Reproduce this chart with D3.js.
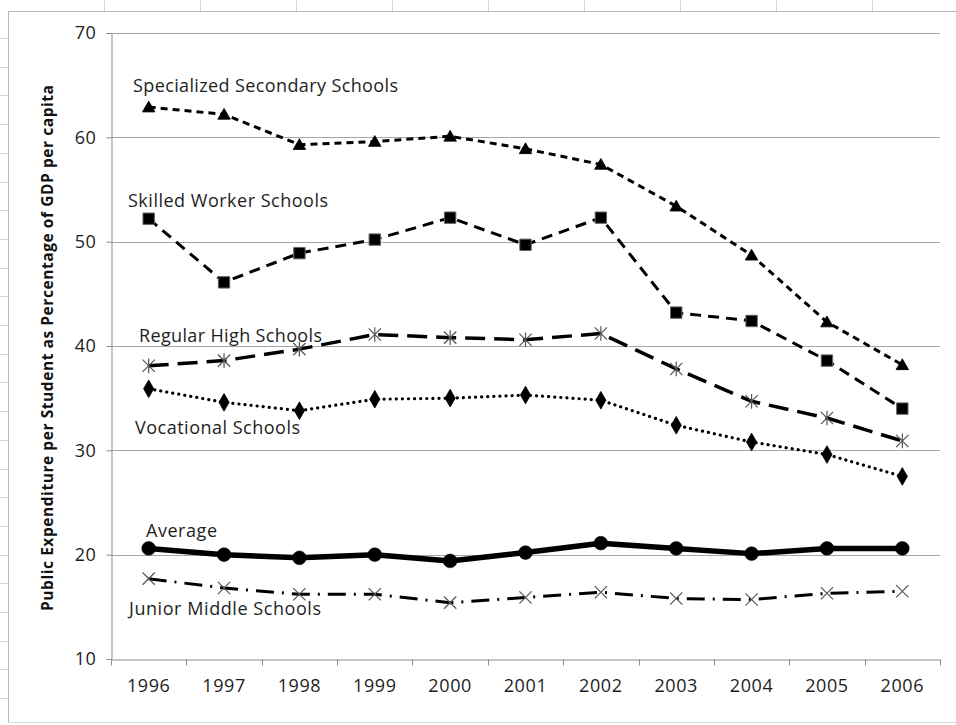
<!DOCTYPE html>
<html>
<head>
<meta charset="utf-8">
<script src="https://cdn.jsdelivr.net/npm/d3@7"></script>
<style>
  body { margin: 0; background: #fff; }
  text { font-family: "Open Sans", "Noto Sans", sans-serif; }
</style>
</head>
<body>
<div id="chart"></div>
<script>
var years = ["1996", "1997", "1998", "1999", "2000", "2001", "2002", "2003", "2004", "2005", "2006"];
var yTicks = [10, 20, 30, 40, 50, 60, 70];

var specialized = [62.9, 62.2, 59.3, 59.6, 60.1, 58.9, 57.4, 53.4, 48.7, 42.3, 38.2];
var skilled = [52.2, 46.1, 48.9, 50.2, 52.3, 49.7, 52.3, 43.2, 42.4, 38.6, 34.0];
var regular = [38.1, 38.6, 39.7, 41.1, 40.8, 40.6, 41.2, 37.8, 34.7, 33.1, 30.9];
var vocational = [35.9, 34.6, 33.8, 34.9, 35.0, 35.3, 34.8, 32.4, 30.8, 29.6, 27.5];
var average = [20.6, 20.0, 19.7, 20.0, 19.4, 20.2, 21.1, 20.6, 20.1, 20.6, 20.6];
var junior = [17.7, 16.8, 16.2, 16.2, 15.4, 15.9, 16.4, 15.8, 15.7, 16.3, 16.5];

var seriesNames = ["Specialized Secondary Schools", "Skilled Worker Schools", "Regular High Schools",
                   "Vocational Schools", "Average", "Junior Middle Schools"];

var W = 956, H = 725;
var margin = { top: 33, right: 16, bottom: 66, left: 111 };
var width = W - margin.left - margin.right;
var height = H - margin.top - margin.bottom;

var svg = d3.select("#chart").append("svg")
    .attr("width", W)
    .attr("height", H);

// spreadsheet cell grid peeking out behind the chart object
var sheet = svg.append("g").attr("stroke", "#cfd6e0").attr("stroke-width", 1);
d3.range(38, H, 28.7).forEach(function (y) {
    sheet.append("line").attr("x1", 0).attr("x2", 8).attr("y1", Math.round(y) + 0.5).attr("y2", Math.round(y) + 0.5);
});
[104.5, 200.5, 296.5, 392.5, 488.5, 584.5, 680.5, 776.5, 872.5].forEach(function (x) {
    sheet.append("line").attr("x1", x).attr("x2", x).attr("y1", 0).attr("y2", 11);
});

// chart object border
svg.append("rect")
    .attr("x", 8.5).attr("y", 11.5)
    .attr("width", W).attr("height", H - 14)
    .attr("fill", "#fff").attr("stroke", "#b8b8b8");
svg.append("line").attr("x1", 8).attr("x2", W).attr("y1", 722.5).attr("y2", 722.5)
    .attr("stroke", "#d8d8d8");

var g = svg.append("g").attr("transform", "translate(" + margin.left + "," + margin.top + ")");

var x = d3.scaleBand().domain(years).range([0, width]).padding(0);
var y = d3.scaleLinear().domain([10, 70]).range([height, 0]);
function cx(i) { return x(years[i]) + x.bandwidth() / 2; }

// gridlines
g.append("g").selectAll("line").data(yTicks.slice(1)).enter().append("line")
    .attr("x1", 0).attr("x2", width)
    .attr("y1", function (d) { return Math.round(y(d)) + 0.5; })
    .attr("y2", function (d) { return Math.round(y(d)) + 0.5; })
    .attr("stroke", "#a6a6a6");

// y axis
var yAxis = g.append("g").attr("transform", "translate(0.5,0)")
    .call(d3.axisLeft(y).tickValues(yTicks).tickSize(5).tickPadding(10));
yAxis.select(".domain").attr("stroke", "#8c8c8c");
yAxis.selectAll(".tick line").attr("stroke", "#8c8c8c");
yAxis.selectAll(".tick text").attr("font-size", 18).attr("fill", "#1e1e1e")
    .attr("letter-spacing", 0.6)
    .attr("font-family", "'Open Sans', sans-serif");

// x axis: labels centred, ticks at category boundaries
var xAxis = g.append("g").attr("transform", "translate(0," + (Math.round(height) + 0.5) + ")")
    .call(d3.axisBottom(x).tickSize(0).tickPadding(20));
xAxis.select(".domain").attr("stroke", "#8c8c8c");
xAxis.selectAll(".tick text").attr("font-size", 18).attr("fill", "#1e1e1e")
    .attr("letter-spacing", 0.6)
    .attr("font-family", "'Open Sans', sans-serif");
xAxis.selectAll(".bound").data(years.concat(["end"])).enter().append("line")
    .attr("x1", function (d, i) { return Math.round(i * x.step()) + 0.5; })
    .attr("x2", function (d, i) { return Math.round(i * x.step()) + 0.5; })
    .attr("y1", 0).attr("y2", 6)
    .attr("stroke", "#8c8c8c");

// y axis title
svg.append("text")
    .attr("transform", "translate(53,348) rotate(-90)")
    .attr("text-anchor", "middle")
    .attr("font-size", 15.5).attr("font-weight", "bold")
    .attr("fill", "#111")
    .attr("textLength", 526)
    .attr("lengthAdjust", "spacing")
    .text("Public Expenditure per Student as Percentage of GDP per capita");

var line = d3.line()
    .x(function (d, i) { return cx(i); })
    .y(function (d) { return y(d); });

function drawLine(vals, dash, w, cap) {
    g.append("path").datum(vals)
        .attr("d", line)
        .attr("fill", "none")
        .attr("stroke", "#000")
        .attr("stroke-width", w)
        .attr("stroke-dasharray", dash)
        .attr("stroke-linecap", cap || "butt")
        .attr("stroke-linejoin", "round");
}

drawLine(specialized, "7,5", 3);
drawLine(skilled, "11,7", 3);
drawLine(regular, "20,9", 3.5);
drawLine(vocational, "0.1,6", 3.2, "round");
drawLine(average, null, 5.5);
drawLine(junior, "18,8,2,8", 3);

// markers
function markers(vals, type, size, fill, stroke, sw) {
    g.append("g").selectAll("path").data(vals).enter().append("path")
        .attr("transform", function (d, i) { return "translate(" + cx(i) + "," + y(d) + ")"; })
        .attr("d", d3.symbol().type(type).size(size))
        .attr("fill", fill)
        .attr("stroke", stroke)
        .attr("stroke-width", sw);
}

var asterisk = {
    draw: function (ctx, size) {
        var r = Math.sqrt(size) / 2;
        ctx.moveTo(-r, -r); ctx.lineTo(r, r);
        ctx.moveTo(-r, r); ctx.lineTo(r, -r);
        ctx.moveTo(0, -r * 1.2); ctx.lineTo(0, r * 1.2);
    }
};
var cross = {
    draw: function (ctx, size) {
        var r = Math.sqrt(size) / 2;
        ctx.moveTo(-r, -r); ctx.lineTo(r, r);
        ctx.moveTo(-r, r); ctx.lineTo(r, -r);
    }
};
var tri = {
    draw: function (ctx, size) {
        var r = Math.sqrt(size) / 2;
        ctx.moveTo(0, -r * 1.05); ctx.lineTo(r * 1.1, r * 0.85); ctx.lineTo(-r * 1.1, r * 0.85); ctx.closePath();
    }
};

markers(specialized, tri, 130, "#000", "#000", 0.8);
markers(skilled, d3.symbolSquare, 130, "#000", "#666", 1);
markers(regular, asterisk, 150, "none", "#555", 1.2);
markers(vocational, d3.symbolDiamond, 90, "#000", "#000", 0.8);
markers(average, d3.symbolCircle, 150, "#000", "#000", 0.5);
markers(junior, cross, 150, "none", "#555", 1.2);

// series labels written on the plot
var labelPos = [[133, 86, 265], [128, 201, 200], [139, 336, 183], [135, 428, 165], [146, 531, 71], [129, 609, 192]];
svg.append("g").selectAll("text").data(seriesNames).enter().append("text")
    .attr("x", function (d, i) { return labelPos[i][0]; })
    .attr("y", function (d, i) { return labelPos[i][1]; })
    .attr("dy", "0.35em")
    .attr("font-size", 18)
    .attr("fill", "#1e1e1e")
    .attr("textLength", function (d, i) { return labelPos[i][2]; })
    .attr("lengthAdjust", "spacing")
    .text(function (d) { return d; });
</script>
</body>
</html>
